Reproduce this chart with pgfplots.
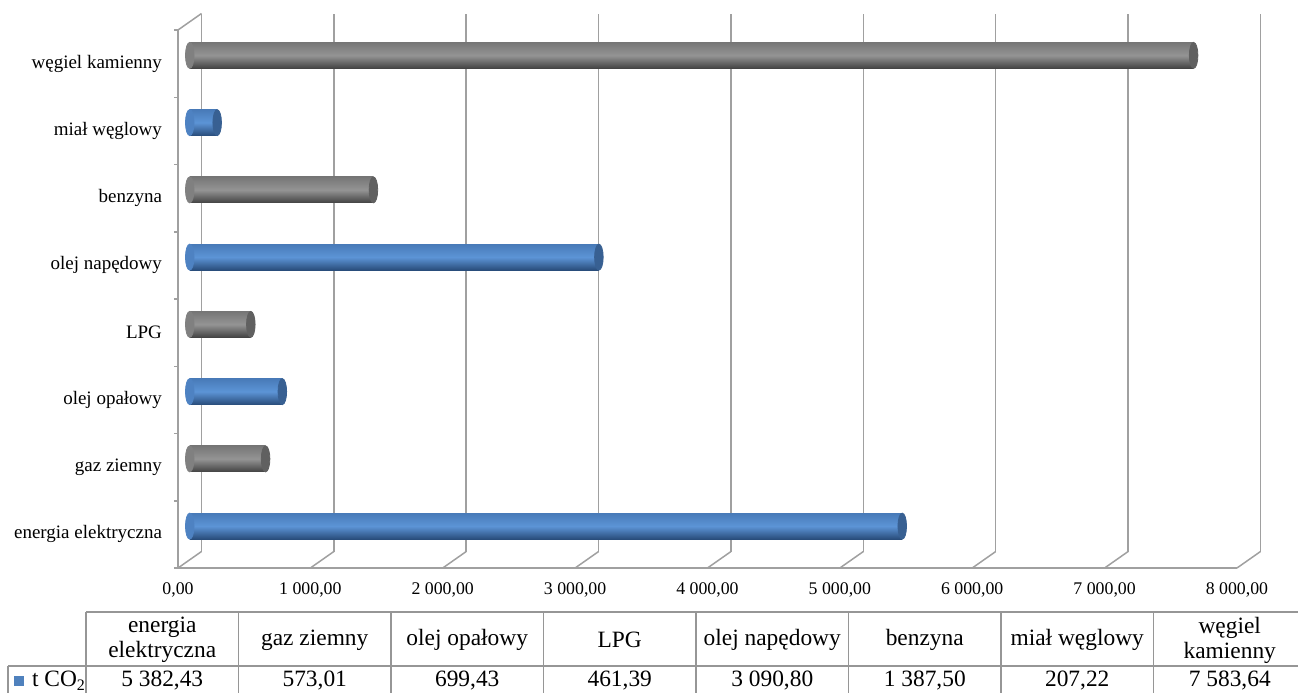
\documentclass[border=0pt]{standalone}
\usepackage{fontspec}
\setmainfont{Liberation Serif}
\usepackage{pgfplots}
\pgfplotsset{compat=1.18}
\definecolor{gridc}{RGB}{160,160,160}
\definecolor{tablec}{RGB}{150,150,150}
\definecolor{btop}{RGB}{72,122,184}
\definecolor{bmid}{RGB}{92,148,214}
\definecolor{bbot}{RGB}{40,76,122}
\definecolor{bcap}{RGB}{56,96,146}
\definecolor{bleft}{RGB}{78,130,194}
\definecolor{gtop}{RGB}{118,118,118}
\definecolor{gmid}{RGB}{148,148,148}
\definecolor{gbot}{RGB}{66,66,66}
\definecolor{gcap}{RGB}{96,96,96}
\definecolor{gleft}{RGB}{128,128,128}
\definecolor{legblue}{RGB}{79,129,189}
\pgfplotsset{
  bluebar/.style={xbar, draw=none, top color=btop, bottom color=bbot, middle color=bmid},
  graybar/.style={xbar, draw=none, top color=gtop, bottom color=gbot, middle color=gmid},
  cap/.style={only marks, mark=*, mark size=6.5pt, color=#1, mark options={xscale=0.33, draw=#1, fill=#1}},
}
\begin{document}
\begin{tikzpicture}
\useasboundingbox (0,0) rectangle (649pt,346.5pt);
% back wall
\begin{axis}[at={(100.75pt,70.75pt)}, anchor=south west, scale only axis,
  width=529.5pt, height=269pt,
  xmin=0, xmax=8000, ymin=0, ymax=8,
  xtick={0,1000,...,8000}, xticklabels={}, ytick=\empty, major tick length=0pt,
  axis line style={draw=none}, xmajorgrids, grid style={gridc, line width=0.75pt}]
\end{axis}
% floor diagonals and left wall top
\foreach \k in {0,...,8} \draw[gridc, line width=0.75pt] ({89pt+\k*66.1875pt},62.5pt) -- ++(11.75pt,8.25pt);
\draw[gridc, line width=0.75pt] (89pt,331.5pt) -- ++(11.75pt,8.25pt);
% front axis
\begin{axis}[at={(89pt,62.5pt)}, anchor=south west, scale only axis,
  width=529.5pt, height=269pt,
  xmin=0, xmax=8000, ymin=0, ymax=8,
  axis x line*=bottom, axis y line*=left,
  axis line style={gridc, line width=0.75pt, -},
  xtick={0,1000,...,8000},
  xticklabels={{0,00},{1 000,00},{2 000,00},{3 000,00},{4 000,00},{5 000,00},{6 000,00},{7 000,00},{8 000,00}},
  ytick={0.5,1.5,...,7.5},
  yticklabels={energia elektryczna, gaz ziemny, olej opałowy, LPG, olej napędowy, benzyna, miał węglowy, węgiel kamienny},
  minor ytick={0,1,...,8},
  tick align=outside, major tick length=0pt, minor tick length=2pt,
  minor tick style={gridc, line width=0.75pt},
  xticklabel style={font=\fontsize{8.9}{10}\selectfont, yshift=-4pt},
  yticklabel style={font=\fontsize{9.5}{11}\selectfont, xshift=-4.5pt}]
\end{axis}
% bars
\begin{axis}[at={(94.875pt,66.625pt)}, anchor=south west, scale only axis,
  width=529.5pt, height=269pt,
  xmin=0, xmax=8000, ymin=0, ymax=8, hide axis, clip=false,
  bar width=13pt, bar shift=0pt]
\addplot[cap=bleft] coordinates {(0,0.5) (0,2.5) (0,4.5) (0,6.5)};
\addplot[cap=gleft] coordinates {(0,1.5) (0,3.5) (0,5.5) (0,7.5)};
\addplot[bluebar] coordinates {(5382.43,0.5)};
\addplot[graybar] coordinates {(573.01,1.5)};
\addplot[bluebar] coordinates {(699.43,2.5)};
\addplot[graybar] coordinates {(461.39,3.5)};
\addplot[bluebar] coordinates {(3090.80,4.5)};
\addplot[graybar] coordinates {(1387.50,5.5)};
\addplot[bluebar] coordinates {(207.22,6.5)};
\addplot[graybar] coordinates {(7583.64,7.5)};
\addplot[cap=bcap] coordinates {(5382.43,0.5) (699.43,2.5) (3090.80,4.5) (207.22,6.5)};
\addplot[cap=gcap] coordinates {(573.01,1.5) (461.39,3.5) (1387.50,5.5) (7583.64,7.5)};
\end{axis}
% data table
\begin{scope}[tablec, line width=0.75pt]
\draw (43pt,40.5pt) -- (649pt,40.5pt);
\draw (4pt,13.5pt) -- (649pt,13.5pt);
\foreach \i in {0,...,7} \draw ({43pt+\i*76.25pt},40.5pt) -- ({43pt+\i*76.25pt},0pt);
\draw (4pt,13.5pt) -- (4pt,0pt);
\end{scope}
\begin{scope}[every node/.style={align=center, font=\fontsize{11.7}{12.5}\selectfont, text=black}]
\node at (81.125pt,26.5pt) {energia\\elektryczna};
\node at (157.375pt,26.5pt) {gaz ziemny};
\node at (233.625pt,26.5pt) {olej opałowy};
\node at (309.875pt,26.5pt) {LPG};
\node at (386.125pt,26.5pt) {olej napędowy};
\node at (462.375pt,26.5pt) {benzyna};
\node at (538.625pt,26.5pt) {miał węglowy};
\node at (614.875pt,26.5pt) {węgiel\\kamienny};
\node at (81.125pt,6pt) {5 382,43};
\node at (157.375pt,6pt) {573,01};
\node at (233.625pt,6pt) {699,43};
\node at (309.875pt,6pt) {461,39};
\node at (386.125pt,6pt) {3 090,80};
\node at (462.375pt,6pt) {1 387,50};
\node at (538.625pt,6pt) {207,22};
\node at (614.875pt,6pt) {7 583,64};
\node[anchor=west] at (12.5pt,6pt) {t CO\raisebox{-0.35ex}{\fontsize{8}{9}\selectfont 2}};
\end{scope}
\fill[legblue] (7pt,3.5pt) rectangle (12pt,8.5pt);
\end{tikzpicture}
\end{document}
